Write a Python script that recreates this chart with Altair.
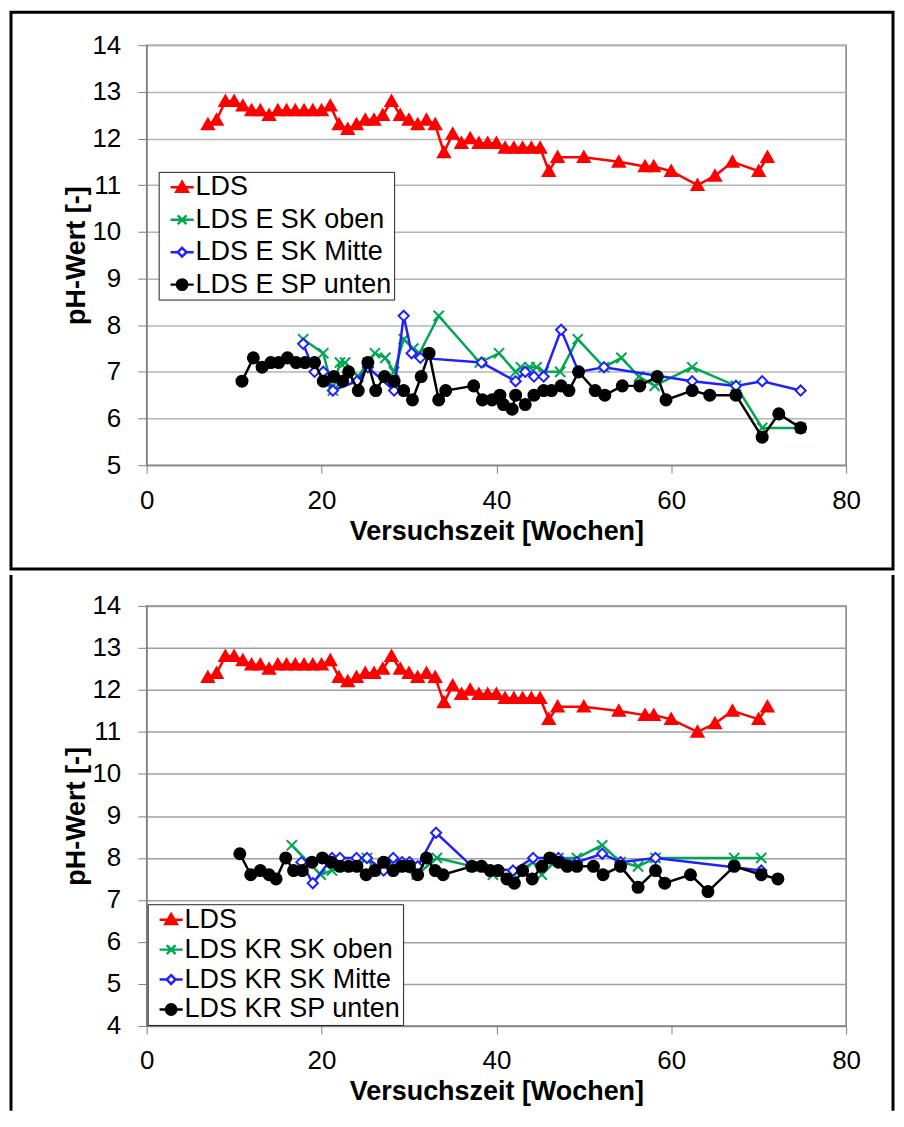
import altair as alt
import pandas as pd

# ---------------- data ----------------
X_TICKS = [0, 20, 40, 60, 80]
Y_TICKS_TOP = [5, 6, 7, 8, 9, 10, 11, 12, 13, 14]
Y_TICKS_BOTTOM = [4, 5, 6, 7, 8, 9, 10, 11, 12, 13, 14]

LABELS_TOP = ["LDS", "LDS E SK oben", "LDS E SK Mitte", "LDS E SP unten"]
LABELS_BOTTOM = ["LDS", "LDS KR SK oben", "LDS KR SK Mitte", "LDS KR SP unten"]

# LDS (same in both panels)
LDS_WEEKS = [7, 8, 9, 10, 11, 12, 13, 14, 15, 16, 17, 18, 19, 20, 21, 22, 23, 24, 25, 26,
             27, 28, 29, 30, 31, 32, 33, 34, 35, 36, 37, 38, 39, 40, 41, 42, 43, 44, 45, 46,
             47, 50, 54, 57, 58, 60, 63, 65, 67, 70, 71]
LDS_PH = [12.3, 12.4, 12.8, 12.8, 12.7, 12.6, 12.6, 12.5, 12.6, 12.6, 12.6, 12.6, 12.6, 12.6,
          12.7, 12.3, 12.2, 12.3, 12.4, 12.4, 12.5, 12.8, 12.5, 12.4, 12.3, 12.4, 12.3, 11.7,
          12.1, 11.9, 12.0, 11.9, 11.9, 11.9, 11.8, 11.8, 11.8, 11.8, 11.8, 11.3, 11.6, 11.6,
          11.5, 11.4, 11.4, 11.3, 11.0, 11.2, 11.5, 11.3, 11.6]

# top panel (E)
E_OBEN_WEEKS = [17.9, 20.2, 21.3, 22.1, 22.7, 24.2, 25.3, 26.1, 27.3, 28.3, 29.4, 30.5, 31.2,
                33.4, 38.1, 40.3, 42.2, 42.8, 43.8, 44.6, 45.4, 47.3, 49.3, 52.3, 54.3, 56.3,
                58.1, 62.4, 67.4, 70.4, 74.8]
E_OBEN_PH = [7.7, 7.4, 6.6, 7.2, 7.2, 6.9, 7.2, 7.4, 7.3, 7.0, 7.7, 7.5, 7.4, 8.2, 7.2, 7.4,
             7.0, 7.1, 7.1, 7.1, 7.0, 7.0, 7.7, 7.1, 7.3, 6.9, 6.7, 7.1, 6.7, 5.8, 5.8]

E_MITTE_WEEKS = [17.9, 19.2, 20.2, 21.3, 24.05, 25.3, 28.3, 29.4, 30.3, 31.3, 38.3, 42.2, 43.3,
                 44.3, 45.4, 47.4, 49.4, 52.3, 62.4, 67.4, 70.4, 74.8]
E_MITTE_PH = [7.6, 7.0, 7.0, 6.6, 6.8, 7.1, 6.6, 8.2, 7.4, 7.3, 7.2, 6.8, 7.0, 6.9, 6.9, 7.9,
              7.0, 7.1, 6.8, 6.7, 6.8, 6.6]

E_UNTEN_WEEKS = [10.9, 12.2, 13.2, 14.2, 15.1, 16.1, 17.1, 18.1, 19.2, 20.2, 21.4, 22.4, 23.1,
                 24.2, 25.3, 26.2, 27.2, 28.3, 29.4, 30.4, 31.4, 32.3, 33.4, 34.2, 37.4, 38.4,
                 39.5, 40.4, 40.8, 41.8, 42.2, 43.3, 44.3, 45.4, 46.3, 47.4, 48.3, 49.4, 51.3,
                 52.4, 54.4, 56.4, 58.4, 59.4, 62.4, 64.4, 67.4, 70.4, 72.3, 74.8]
E_UNTEN_PH = [6.8, 7.3, 7.1, 7.2, 7.2, 7.3, 7.2, 7.2, 7.2, 6.8, 6.9, 6.8, 7.0, 6.6, 7.2, 6.6,
              6.9, 6.8, 6.6, 6.4, 6.9, 7.4, 6.4, 6.6, 6.7, 6.4, 6.4, 6.5, 6.3, 6.2, 6.5, 6.3,
              6.5, 6.6, 6.6, 6.7, 6.6, 7.0, 6.6, 6.5, 6.7, 6.7, 6.9, 6.4, 6.6, 6.5, 6.5, 5.6,
              6.1, 5.8]

# bottom panel (KR)
KR_OBEN_WEEKS = [16.6, 19.9, 21.2, 22.2, 24.0, 25.2, 26.1, 28.2, 30.9, 33.2, 37.2, 39.6, 42.0,
                 44.2, 45.2, 47.1, 49.2, 52.1, 54.2, 56.2, 58.2, 67.2, 70.3]
KR_OBEN_PH = [8.3, 7.6, 7.7, 7.8, 7.8, 8.0, 7.7, 7.8, 7.6, 8.0, 7.8, 7.6, 7.6, 7.9, 7.6, 8.0,
              8.0, 8.3, 7.9, 7.8, 8.0, 8.0, 8.0]

KR_MITTE_WEEKS = [17.7, 19.0, 21.2, 22.1, 24.0, 25.2, 27.1, 28.2, 29.2, 30.05, 31.0, 33.1, 37.2,
                  41.9, 44.2, 47.1, 49.2, 52.1, 54.2, 58.2, 70.3]
KR_MITTE_PH = [7.9, 7.4, 8.0, 8.0, 8.0, 8.0, 7.7, 8.0, 7.9, 7.9, 7.8, 8.6, 7.8, 7.7, 8.0, 8.0,
               7.9, 8.1, 7.9, 8.0, 7.7]

KR_UNTEN_WEEKS = [10.65, 11.9, 13.0, 14.0, 14.8, 15.9, 16.8, 17.8, 18.9, 20.1, 21.1, 22.1, 23.1,
                  24.05, 25.1, 26.1, 27.1, 28.2, 29.2, 30.05, 31.0, 32.0, 33.0, 33.9, 37.2, 38.3,
                  39.3, 40.2, 41.2, 42.05, 43.0, 44.1, 45.2, 46.1, 47.1, 48.1, 49.2, 51.1, 52.2,
                  54.2, 56.2, 58.2, 59.25, 62.2, 64.2, 67.2, 70.3, 72.2]
KR_UNTEN_PH = [8.1, 7.6, 7.7, 7.6, 7.5, 8.0, 7.7, 7.7, 7.9, 8.0, 7.9, 7.8, 7.8, 7.8, 7.6, 7.7,
               7.9, 7.7, 7.8, 7.8, 7.6, 8.0, 7.7, 7.6, 7.8, 7.8, 7.7, 7.7, 7.5, 7.4, 7.7, 7.5,
               7.8, 8.0, 7.9, 7.8, 7.8, 7.8, 7.6, 7.8, 7.3, 7.7, 7.4, 7.6, 7.2, 7.8, 7.6, 7.5]

# ---------------- styling ----------------
FONT = "Liberation Sans"
W, H = 701, 421
COLORS = ["#ff0000", "#00a651", "#2020ff", "#000000"]

# marker paths for the plot (size 144 -> 6 px per unit)
MARKERS = [
    ("M0,-0.95L1,0.8L-1,0.8Z", True, "#ff0000"),
    ("M-0.85,-0.85L0.85,0.85M-0.85,0.85L0.85,-0.85", False, "transparent"),
    ("M0,-0.85L0.85,0L0,0.85L-0.85,0Z", False, "white"),
    ("M0.92,0A0.92,0.92,0,1,1,-0.92,0A0.92,0.92,0,1,1,0.92,0Z", True, "#000000"),
]
# legend symbols: a short line with the marker on it (size 64 -> 4 px per unit)
LEG_PATHS = [
    "M-2.9,0L2.9,0M0,-1.4L1.45,1.1L-1.45,1.1Z",
    "M-2.9,0L2.9,0M-1.1,-1.1L1.1,1.1M-1.1,1.1L1.1,-1.1",
    "M-2.9,0L-1.1,0M1.1,0L2.9,0M0,-1.1L1.1,0L0,1.1L-1.1,0Z",
    "M-2.9,0L2.9,0M1.3,0A1.3,1.3,0,1,1,-1.3,0A1.3,1.3,0,1,1,1.3,0Z",
]
LEG_FILLS = ["#ff0000", "transparent", "white", "#000000"]


def panel(series, labels, y_ticks, legend_xy, legend_row_pad, grid_color, top):
    x_enc = alt.X(
        "w:Q",
        scale=alt.Scale(domain=[X_TICKS[0], X_TICKS[-1]], nice=False),
        axis=alt.Axis(values=X_TICKS, grid=False, title="Versuchszeit [Wochen]",
                      labelFont=FONT, labelFontSize=26, labelColor="black",
                      labelFlush=False, labelPadding=14, tickSize=8, tickColor="#808080",
                      domainColor="#808080", titleFont=FONT, titleFontSize=27,
                      titleFontWeight="bold", titleColor="black", titlePadding=5),
    )
    y_enc = alt.Y(
        "ph:Q",
        scale=alt.Scale(domain=[y_ticks[0], y_ticks[-1]], nice=False),
        axis=alt.Axis(values=y_ticks, grid=True, gridColor=grid_color, gridWidth=1.5,
                      title="pH-Wert [-]", labelFont=FONT, labelFontSize=26,
                      labelColor="black", labelFlush=False, labelPadding=17, tickSize=9,
                      tickColor="#808080", domainColor="#808080", titleFont=FONT,
                      titleFontSize=27, titleFontWeight="bold", titleColor="black",
                      titlePadding=1),
    )
    layers = []
    for (weeks, vals), color, (shape, filled, fill) in zip(series, COLORS, MARKERS):
        df = pd.DataFrame({"w": weeks, "ph": vals})
        base = alt.Chart(df).encode(x=x_enc, y=y_enc)
        layers.append(base.mark_line(color=color, strokeWidth=2.5))
        layers.append(base.mark_point(shape=shape, filled=filled, fill=fill, stroke=color,
                                      strokeWidth=2, size=144, opacity=1))

    leg = alt.Legend(orient="none", legendX=legend_xy[0], legendY=legend_xy[1], title=None,
                     labelFont=FONT, labelFontSize=27, labelColor="black", labelLimit=400,
                     strokeColor="#222222", fillColor="white", padding=2,
                     rowPadding=legend_row_pad, symbolSize=64, symbolStrokeWidth=2.5,
                     symbolOffset=8, labelOffset=0)
    legend_layer = (
        alt.Chart(pd.DataFrame({"s": labels}))
        .transform_filter("false")
        .mark_point(filled=False, opacity=1, strokeWidth=2.5)
        .encode(
            color=alt.Color("s:N", scale=alt.Scale(domain=labels, range=COLORS), legend=leg),
            shape=alt.Shape("s:N", scale=alt.Scale(domain=labels, range=LEG_PATHS), legend=leg),
            fill=alt.Fill("s:N", scale=alt.Scale(domain=labels, range=LEG_FILLS), legend=leg),
        )
    )
    layers.append(legend_layer)

    one = pd.DataFrame({"k": [0]})
    if top:
        box = alt.Chart(one).mark_rect(fill="transparent", stroke="black", strokeWidth=3).encode(
            x=alt.value(-136), x2=alt.value(748), y=alt.value(-33), y2=alt.value(525))
        layers.append(box)
    else:
        for xv in (-136, 748):
            layers.append(alt.Chart(one).mark_rule(color="black", strokeWidth=3).encode(
                x=alt.value(xv), y=alt.value(-31), y2=alt.value(506)))
    return alt.layer(*layers).properties(width=W, height=H)


top_chart = panel(
    [(LDS_WEEKS, LDS_PH), (E_OBEN_WEEKS, E_OBEN_PH), (E_MITTE_WEEKS, E_MITTE_PH),
     (E_UNTEN_WEEKS, E_UNTEN_PH)],
    LABELS_TOP, Y_TICKS_TOP, (12, 127), 4.5, "#b4b4b4", True)

bottom_chart = panel(
    [(LDS_WEEKS, LDS_PH), (KR_OBEN_WEEKS, KR_OBEN_PH), (KR_MITTE_WEEKS, KR_MITTE_PH),
     (KR_UNTEN_WEEKS, KR_UNTEN_PH)],
    LABELS_BOTTOM, Y_TICKS_BOTTOM, (1, 299), 2, "#a0a0a0", False)

chart = (
    alt.vconcat(top_chart, bottom_chart, spacing=0)
    .resolve_scale(color="independent", shape="independent", fill="independent")
    .resolve_legend(color="independent", shape="independent", fill="independent")
    .properties(padding=0, background="white")
    .configure_view(stroke="#808080", strokeWidth=1.5)
)

chart.save("out.html", embed_options={"renderer": "svg", "actions": False})
